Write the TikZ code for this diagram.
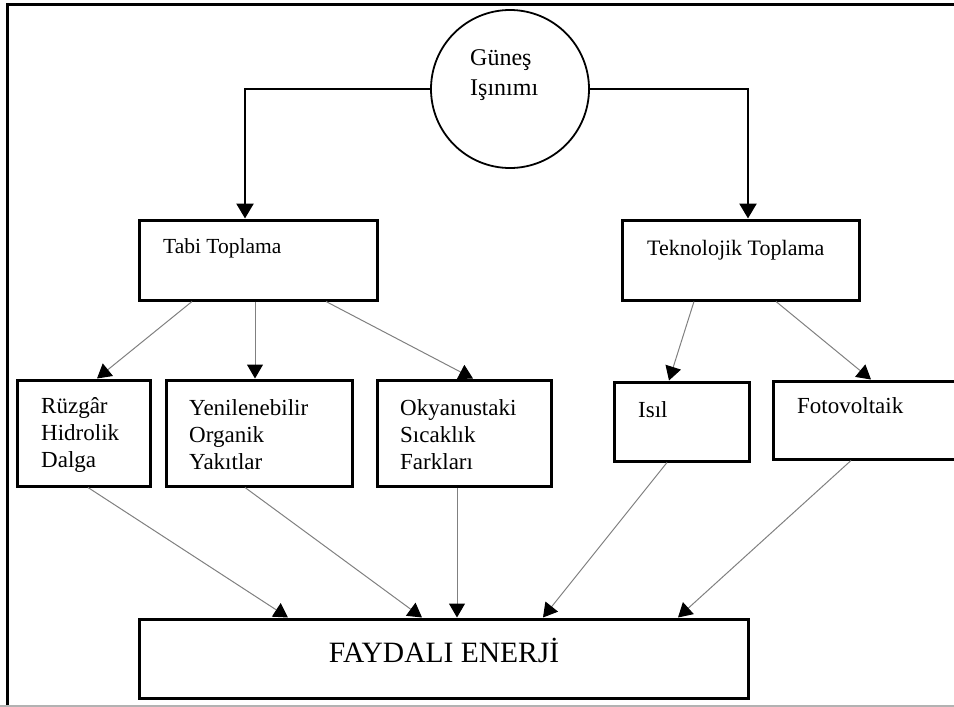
\documentclass[tikz,border=0pt]{standalone}
\usepackage{fontspec}
\setmainfont{Liberation Serif}
\usetikzlibrary{arrows.meta}
\tikzset{
box/.style={draw, rectangle, line width=3pt, inner sep=0pt}, % the framed boxes
txt/.style={inner sep=0pt, align=left, font=\fontsize{23}{27}\selectfont}, % text inside the boxes
main/.style={line width=2.5pt, -{Triangle[length=15pt,width=17pt]}}, % thick arrows from the sun
thin/.style={draw=gray, line width=1pt, -{Triangle[length=14pt,width=16pt,color=black]}}, % thin arrows
}

\begin{document}
\begin{tikzpicture}[x=1pt,y=-1pt]
    \useasboundingbox (0,0) rectangle (954,707);
    % frame
    \draw[line width=3pt] (954,4.5) -- (7,4.5) -- (7,706);
    \draw[gray!60, line width=1.5pt] (0,706) -- (954,706);
    \node[draw, circle, line width=1.8pt, minimum size=158] (sun) at (510,89) {};
    \node[txt, font=\fontsize{24}{30}\selectfont, anchor=west] (suntxt) at (470,75) {Güneş\\Işınımı};
    \node[box, minimum width=238, minimum height=80] (tabi) at (258,260) {};
    \node[txt, font=\fontsize{21.5}{27}\selectfont, anchor=west] (tabitxt) at (163,248) {Tabi Toplama};
    \node[box, minimum width=237, minimum height=80] (tekno) at (740.5,260) {};
    \node[txt, font=\fontsize{22}{27}\selectfont, anchor=west] (teknotxt) at (647,250) {Teknolojik Toplama};
    \node[box, minimum width=133, minimum height=106] (ruzgar) at (83.5,433) {};
    \node[txt, anchor=west] (ruzgartxt) at (41,435) {Rüzgâr\\Hidrolik\\Dalga};
    \node[box, minimum width=186, minimum height=106] (yenil) at (259,433) {};
    \node[txt, anchor=west] (yeniltxt) at (189,435) {Yenilenebilir\\Organik\\Yakıtlar};
    \node[box, minimum width=174, minimum height=106] (okyan) at (464,433) {};
    \node[txt, anchor=west] (okyantxt) at (400,435) {Okyanustaki\\Sıcaklık\\Farkları};
    \node[box, minimum width=135, minimum height=79] (isil) at (681.5,421.5) {};
    \node[txt, anchor=west] (isiltxt) at (638,410) {Isıl};
    \node[box, minimum width=184, minimum height=78] (foto) at (865,420) {};
    \node[txt, anchor=west] (fototxt) at (797,406) {Fotovoltaik};
    \node[box, minimum width=609, minimum height=79] (fayda) at (443.5,658.5) {};
    \node[txt, font=\fontsize{29.5}{32}\selectfont] (faydatxt) at (444,650) {FAYDALI ENERJİ};
    \draw[main] (sun.west) -| ([xshift=-13]tabi.north);
    \draw[main] (sun.east) -| ([xshift=7.5]tekno.north);
    \draw[thin] ([xshift=-66]tabi.south) -- ([xshift=13.5]ruzgar.north);
    \draw[thin] ([xshift=-3]tabi.south) -- ([xshift=-4]yenil.north);
    \draw[thin] ([xshift=68]tabi.south) -- ([xshift=9]okyan.north);
    \draw[thin] ([xshift=-46.5]tekno.south) -- ([xshift=-12.5]isil.north);
    \draw[thin] ([xshift=35.5]tekno.south) -- ([xshift=6]foto.north);
    \draw[thin] ([xshift=4.5]ruzgar.south) -- ([xshift=-155.5]fayda.north);
    \draw[thin] ([xshift=-14]yenil.south) -- ([xshift=-21.5]fayda.north);
    \draw[thin] ([xshift=-7]okyan.south) -- ([xshift=13.5]fayda.north);
    \draw[thin] ([xshift=-14.5]isil.south) -- ([xshift=99.5]fayda.north);
    \draw[thin] ([xshift=-14]foto.south) -- ([xshift=234.5]fayda.north);
\end{tikzpicture}
\end{document}
